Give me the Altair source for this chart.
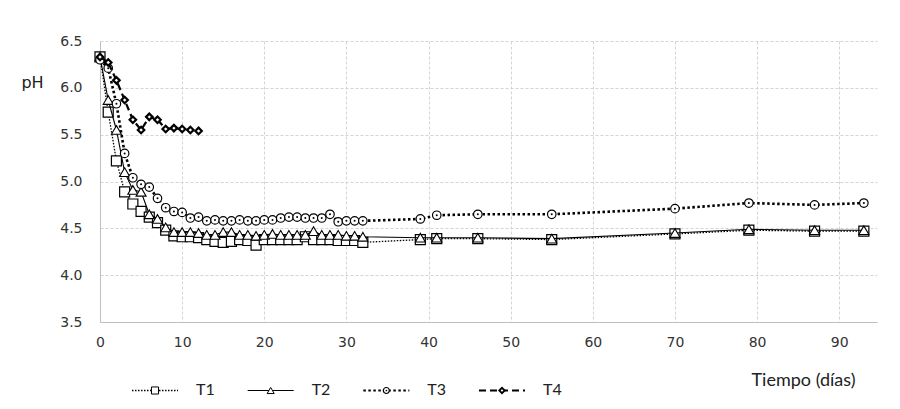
import altair as alt
import pandas as pd

# ---------------- data ----------------
days = list(range(0, 33)) + [39, 41, 46, 55, 70, 79, 87, 93]
t1 = [6.33, 5.74, 5.22, 4.89, 4.76, 4.68, 4.62, 4.56, 4.48, 4.42,
      4.41, 4.41, 4.40, 4.38, 4.36, 4.35, 4.36, 4.38, 4.37, 4.32,
      4.38, 4.38, 4.38, 4.38, 4.38, 4.41, 4.38, 4.38, 4.38, 4.37,
      4.37, 4.37, 4.35,
      4.38, 4.39, 4.39, 4.38, 4.44, 4.48, 4.47, 4.47]
t2 = [6.33, 5.87, 5.55, 5.10, 4.91, 4.89, 4.65, 4.60, 4.51, 4.46,
      4.46, 4.46, 4.45, 4.43, 4.43, 4.46, 4.46, 4.43, 4.43, 4.42,
      4.43, 4.44, 4.43, 4.43, 4.43, 4.43, 4.47, 4.43, 4.43, 4.43,
      4.42, 4.42, 4.41,
      4.40, 4.40, 4.40, 4.39, 4.45, 4.49, 4.48, 4.48]
t3 = [6.30, 6.21, 5.83, 5.30, 5.04, 4.97, 4.94, 4.82, 4.72, 4.68,
      4.67, 4.61, 4.62, 4.58, 4.59, 4.58, 4.58, 4.59, 4.58, 4.58,
      4.59, 4.59, 4.61, 4.62, 4.62, 4.61, 4.61, 4.61, 4.65, 4.57,
      4.58, 4.58, 4.58,
      4.60, 4.64, 4.65, 4.65, 4.71, 4.77, 4.75, 4.77]
days_t4 = list(range(0, 13))
t4 = [6.33, 6.27, 6.08, 5.87, 5.66, 5.55, 5.69, 5.66, 5.56, 5.57,
      5.56, 5.55, 5.54]

series = ["T1", "T2", "T3", "T4"]
x_ticks = [0, 10, 20, 30, 40, 50, 60, 70, 80, 90]
y_ticks = [3.5, 4.0, 4.5, 5.0, 5.5, 6.0, 6.5]

rows = []
for name, dd, vv in [("T1", days, t1), ("T2", days, t2), ("T3", days, t3), ("T4", days_t4, t4)]:
    for d, v in zip(dd, vv):
        rows.append({"series": name, "day": d, "pH": v})
df = pd.DataFrame(rows)
legend_df = pd.DataFrame({"series": series})

# ---------------- styles ----------------
styles = {
    "T1": dict(dash=[1.5, 1.5], lw=1.3, shape="square", size=100, msw=1.2, lsize=50, lmsw=1.0),
    "T2": dict(dash=None, lw=1.1, shape="triangle-up", size=100, msw=1.1, lsize=50, lmsw=1.0),
    "T3": dict(dash=[2.5, 2.5], lw=2.6, shape="circle", size=72, msw=1.2, lsize=36, lmsw=1.2),
    "T4": dict(dash=[7, 4], lw=2.2, shape="diamond", size=42, msw=2.2, lsize=30, lmsw=1.8),
}

label_font = "DejaVu Sans"
text_font = "Lato"

x_enc = alt.X(
    "day:Q",
    scale=alt.Scale(domain=[0, 94.6], nice=False, zero=False),
    axis=alt.Axis(values=x_ticks, title="Tiempo (días)", titleX=755, titleY=58,
                  titleAlign="right", titleBaseline="middle", titleFont=text_font,
                  titleFontSize=18, titleFontWeight="normal", titleColor="#222",
                  labelPadding=13, labelFlush=False, grid=True),
)
y_enc = alt.Y(
    "pH:Q",
    scale=alt.Scale(domain=[3.5, 6.5], nice=False, zero=False),
    axis=alt.Axis(values=y_ticks, format=".1f", title="pH", titleAngle=0,
                  titleX=-68, titleY=41, titleAlign="center", titleBaseline="middle",
                  titleFont=label_font, titleFontSize=16, titleFontWeight="normal",
                  titleColor="#222", labelPadding=18, labelFlush=False, grid=True),
)


def line_kwargs(st, width):
    kw = dict(color="black", strokeWidth=width)
    if st["dash"]:
        kw["strokeDash"] = st["dash"]
    return kw


main_layers = []
for s in series:
    st = styles[s]
    base = alt.Chart(df).transform_filter(alt.datum.series == s)
    main_layers.append(
        base.mark_line(**line_kwargs(st, st["lw"]))
        .encode(x=x_enc, y=y_enc, order="day:Q")
    )
    main_layers.append(
        base.mark_point(shape=st["shape"], size=st["size"], filled=True, fill="white",
                        stroke="black", strokeWidth=st["msw"], opacity=1)
        .encode(x=x_enc, y=y_enc)
    )
    if s == "T3":
        main_layers.append(
            base.mark_point(shape="circle", size=4, filled=True, color="black", opacity=1)
            .encode(x=x_enc, y=y_enc)
        )

main = alt.layer(*main_layers)

lx = alt.X("series:N",
           scale=alt.Scale(type="point", domain=series, range=[55, 402], padding=0),
           axis=None)
legend_layers = []
for s in series:
    st = styles[s]
    lb = alt.Chart(legend_df).transform_filter(alt.datum.series == s)
    legend_layers.append(
        lb.mark_rule(xOffset=-23, x2Offset=23, **line_kwargs(st, min(st["lw"], 2.0)))
        .encode(x=lx, x2=alt.X2("series"), y=alt.value(349.5))
    )
    legend_layers.append(
        lb.mark_point(shape=st["shape"], size=st["lsize"], filled=True, fill="white",
                      stroke="black", strokeWidth=st["lmsw"], opacity=1)
        .encode(x=lx, y=alt.value(349.5))
    )
    if s == "T3":
        legend_layers.append(
            lb.mark_point(shape="circle", size=3, filled=True, color="black", opacity=1)
            .encode(x=lx, y=alt.value(349.5))
        )
    legend_layers.append(
        lb.mark_text(align="left", baseline="middle", dx=41, font=text_font,
                     fontSize=16, color="#222")
        .encode(x=lx, y=alt.value(349), text="series:N")
    )

legend = alt.layer(*legend_layers)

chart = (
    alt.layer(main, legend)
    .resolve_scale(x="independent")
    .properties(
        width=777, height=281,
        autosize=alt.AutoSizeParams(type="none"),
        padding={"left": 92, "top": 33, "right": 15, "bottom": 79},
    )
    .configure_view(stroke=None)
    .configure_axis(
        domainColor="#bfbfbf", domainWidth=1, ticks=False,
        gridColor="#d4d4d4", gridDash=[3, 2], gridWidth=1,
        labelFont=label_font, labelFontSize=14, labelColor="#333",
    )
)

chart.save("out.html", embed_options={"renderer": "svg", "actions": False})
